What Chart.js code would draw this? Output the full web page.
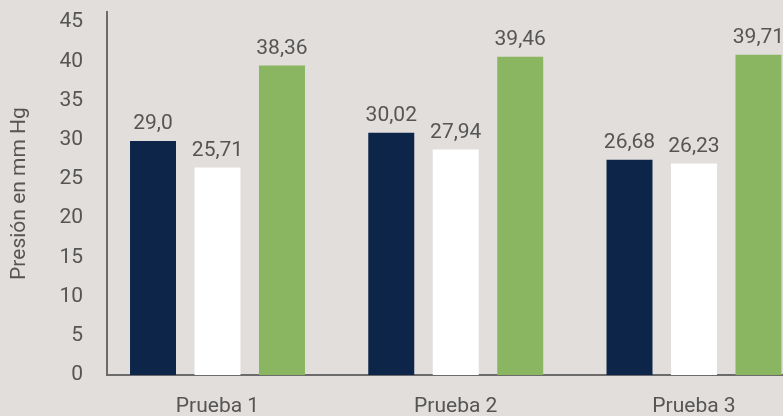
<!DOCTYPE html>
<html>
<head>
<meta charset="utf-8">
<script src="https://cdn.jsdelivr.net/npm/chart.js@4.4.0/dist/chart.umd.min.js"></script>
<style>
    html, body { margin: 0; padding: 0; background: #e2dedb; overflow: hidden; }
    #wrap { width: 783px; height: 416px; position: relative; }
</style>
</head>
<body>
<div id="wrap"><canvas id="chart"></canvas></div>
<script>
// chart data
var categories = ['Prueba 1', 'Prueba 2', 'Prueba 3'];
var navyValues = [29.0, 30.02, 26.68];
var whiteValues = [25.71, 27.94, 26.23];
var greenValues = [38.36, 39.46, 39.71];
var navyText = ['29,0', '30,02', '26,68'];
var whiteText = ['25,71', '27,94', '26,23'];
var greenText = ['38,36', '39,46', '39,71'];
var axisTitle = 'Presión en mm Hg';

var textColor = '#555555';
var axisColor = '#6b6b6b';

Chart.defaults.font.family = 'Roboto';
Chart.defaults.font.size = 21;
Chart.defaults.color = textColor;

// Draw the value above each bar
var valueLabels = {
    id: 'valueLabels',
    afterDatasetsDraw: function(chart) {
        var ctx = chart.ctx;
        ctx.save();
        ctx.font = '21px Roboto';
        ctx.fillStyle = textColor;
        ctx.textAlign = 'center';
        ctx.textBaseline = 'middle';
        chart.data.datasets.forEach(function(ds, i) {
            var meta = chart.getDatasetMeta(i);
            meta.data.forEach(function(bar, j) {
                ctx.fillText(ds.texts[j], bar.x, bar.y - 17);
            });
        });
        ctx.restore();
    }
};

var positions = categories.map(function(c, i) { return i; });

new Chart(document.getElementById('chart'), {
    type: 'bar',
    data: {
        labels: positions,
        datasets: [
            { data: navyValues, texts: navyText, backgroundColor: '#0c2549' },
            { data: whiteValues, texts: whiteText, backgroundColor: '#ffffff' },
            { data: greenValues, texts: greenText, backgroundColor: '#8bb661' }
        ]
    },
    options: {
        responsive: true,
        maintainAspectRatio: false,
        animation: false,
        devicePixelRatio: 1,
        categoryPercentage: 0.812,
        barPercentage: 0.713,
        layout: { padding: { top: 12, left: 0, right: 0, bottom: 0 } },
        plugins: {
            legend: { display: false },
            tooltip: { enabled: false }
        },
        scales: {
            x: {
                type: 'linear',
                offset: false,
                min: -0.4638,
                max: 2.3736,
                grid: { display: false, drawTicks: false },
                border: { display: true, color: axisColor, width: 2 },
                ticks: {
                    stepSize: 1,
                    includeBounds: false,
                    padding: 19,
                    maxRotation: 0,
                    callback: function(v) { return categories[v] !== undefined ? categories[v] : ''; }
                },
                afterFit: function(scale) {
                    scale.height = 41;
                }
            },
            y: {
                display: false,
                min: 0,
                max: 45
            },
            y2: {
                type: 'linear',
                position: 'left',
                min: 0,
                max: 46.3,
                grid: { display: false, drawTicks: false },
                border: { display: true, color: axisColor, width: 2 },
                ticks: {
                    stepSize: 5,
                    includeBounds: false,
                    padding: 24
                },
                title: {
                    display: true,
                    text: axisTitle,
                    padding: { top: 7.5, bottom: 0 }
                },
                afterFit: function(scale) {
                    scale.width = 107;
                    scale.paddingTop = 0;
                    scale.paddingBottom = 0;
                }
            }
        }
    },
    plugins: [valueLabels]
});
</script>
</body>
</html>
